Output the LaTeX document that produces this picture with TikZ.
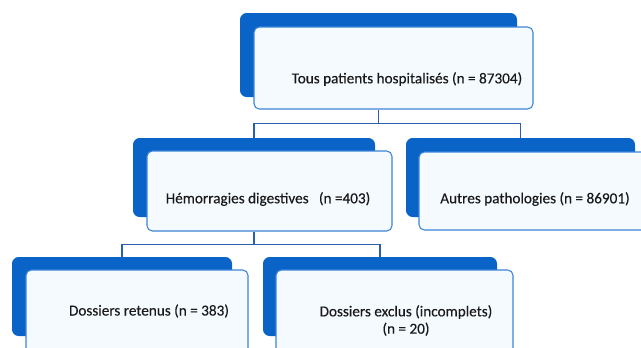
\documentclass[tikz,border=0pt]{standalone}
\usepackage{fontspec}
\setmainfont{Carlito}
\newfontfamily\labelfont{Carlito}[BoldFont=Carlito, BoldFeatures={FakeBold=0.3}]
\usetikzlibrary{fit}

\definecolor{boxblue}{RGB}{10,100,200}
\definecolor{edgeblue}{RGB}{60,132,216}
\definecolor{paleblue}{RGB}{245,250,255}
\definecolor{lineblue}{RGB}{43,95,174}

\tikzset{
  backbox/.style={fill=boxblue, rounded corners=5pt, inner sep=0pt},
  frontbox/.style={draw=edgeblue, fill=paleblue, line width=0.8pt, rounded corners=4pt, inner sep=0pt},
  label/.style={font=\labelfont\bfseries\fontsize{11.4}{13}\selectfont, text=black!90, inner sep=0pt, align=center},
  link/.style={draw=lineblue, line width=0.9pt}
}

\begin{document}
\begin{tikzpicture}[x=0.75pt,y=-0.75pt]
\useasboundingbox (0,0) rectangle (641,347);

% top level
\node[backbox, fit={(240,13) (517,97)}] (topback) {};
\node[frontbox, fit={(254,27) (533,109)}] (top) {};
\node[label] (toptext) at (407,79) {Tous patients hospitalisés (n = 87304)};

% second level
\node[backbox, fit={(133,138) (375,217)}] (hemback) {};
\node[frontbox, fit={(147,151) (392,231)}] (hem) {};
\node[label] (hemtext) at (268,199) {Hémorragies digestives \ \ (n =403)};

\node[backbox, fit={(406,138) (635,217)}] (autback) {};
\node[frontbox, fit={(419,152) (660,230)}] (aut) {};
\node[label] (auttext) at (535,199) {Autres pathologies (n = 86901)};

% third level
\node[backbox, fit={(12,257) (232,336)}] (retback) {};
\node[frontbox, fit={(26,270) (248,362)}] (ret) {};
\node[label] (rettext) at (149,311) {Dossiers retenus (n = 383)};

\node[backbox, fit={(263,257) (497,336)}] (exback) {};
\node[frontbox, fit={(276,270) (513,362)}] (ex) {};
\node[label] (extext) at (406,320.5) {Dossiers exclus (incomplets)\\(n = 20)};

% connectors
\draw[link] (topback.south |- top.south) -- ++(0,14) coordinate (j1);
\draw[link] (hemback.north) |- (j1) -| (autback.north);
\draw[link] (hemback.south |- hem.south) -- ++(0,13) coordinate (j2);
\draw[link] (retback.north) |- (j2) -| (exback.north);
\end{tikzpicture}
\end{document}
